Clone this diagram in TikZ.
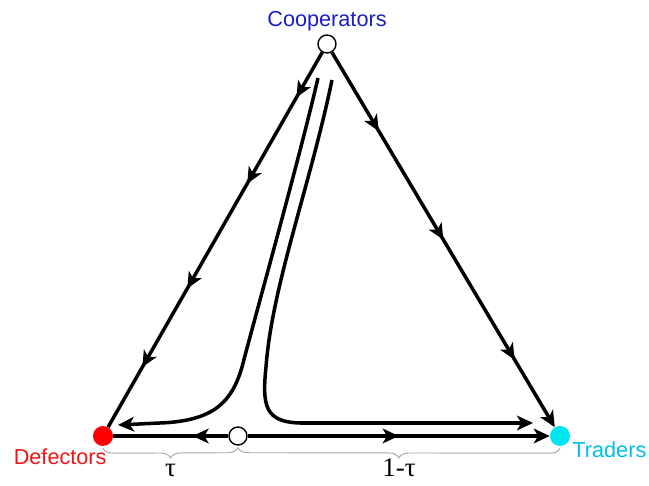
\documentclass[tikz,border=0pt]{standalone}
\usepackage{fontspec}
\setmainfont{Liberation Sans}
\newfontfamily\taufont{Liberation Serif}
\usetikzlibrary{arrows.meta,positioning,calc,decorations.markings,decorations.pathreplacing}

\definecolor{coopblue}{RGB}{28,28,200}
\definecolor{defred}{RGB}{240,20,20}
\definecolor{trdcyan}{RGB}{0,228,240}
\definecolor{trdtext}{RGB}{0,190,230}

\begin{document}
\begin{tikzpicture}[
    x=0.03cm, y=0.03cm,
    flow/.style={line width=3pt, draw=black},
    arrowat/.style={postaction={decorate, decoration={markings, mark=at position #1 with {\arrow{Stealth[length=4.8mm,width=4.4mm,inset=1.3mm]}}}}},
    openpt/.style={circle, draw=black, fill=white, line width=1.2pt, minimum size=0.54cm, inner sep=0pt},
    fullpt/.style={circle, minimum size=0.6cm, inner sep=0pt},
    vertex/.style={font=\fontsize{18.5}{20}\selectfont, inner sep=0pt},
    share/.style={draw=black!35, line width=0.8pt, decorate, decoration={brace, mirror, amplitude=0.3cm}},
    sharelab/.style={font=\taufont\fontsize{23}{26}\selectfont, inner sep=0pt, text=black, anchor=base, yshift=-0.86cm},
    >={Stealth[length=4.8mm,width=4.4mm,inset=1.3mm]}
]
\useasboundingbox (0,0) rectangle (649,486);

% corners of the simplex
\node[openpt] (coop) at (327,442) {};
\node[fullpt, fill=red] (def) at (103,50) {};
\node[fullpt, fill=trdcyan] (trd) at (560,50) {};
\node[openpt] (mid) at (238,50) {};

\node[vertex, text=coopblue, above=0.09cm of coop] (cooplab) {Cooperators};
\node[vertex, text=defred, below left=0.15cm and -0.33cm of def] (deflab) {Defectors};
\node[vertex, text=trdtext, below right=-0.06cm and 0.15cm of trd] (trdlab) {Traders};

% edges
\draw[flow, arrowat=0.12, arrowat=0.35, arrowat=0.63, arrowat=0.84] (coop) -- (def);
\draw[flow, ->, arrowat=0.21, arrowat=0.50, arrowat=0.82] (coop) -- (trd);
\draw[flow, arrowat=0.31] (mid) -- (def);
\draw[flow, ->, arrowat=0.50] (mid) -- (trd);

% interior trajectories
\coordinate (lstart) at (318,408);
\coordinate (lend) at (118,61);
\coordinate (rstart) at (332,406);
\coordinate (rend) at (533,63);
\draw[flow, ->] (lstart) .. controls (300,330) and (258,180) .. (242,119)
    .. controls (232,85) and (215,65) .. (160,63) -- (lend);
\draw[flow, ->] (rstart) .. controls (310,300) and (272,200) .. (266,119)
    .. controls (262,80) and (265,64) .. (300,63) -- (rend);

% shares
\draw[share] ($(def.south)+(0,-2)$) -- node[sharelab] (tau) {τ} ($(mid.south)+(0,-2)$);
\draw[share] ($(mid.south)+(0,-2)$) -- node[sharelab] (onetau) {1-τ} ($(trd.south)+(0,-2)$);

\end{tikzpicture}
\end{document}
